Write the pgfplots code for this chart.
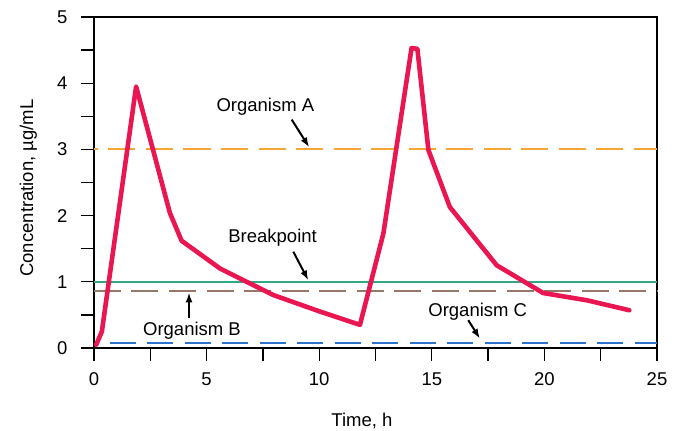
\documentclass[border=0pt]{standalone}
\usepackage{fontspec}
\setmainfont{Liberation Sans}
\usepackage{pgfplots}
\pgfplotsset{compat=1.18}
\usetikzlibrary{arrows.meta,calc}
\definecolor{curvered}{RGB}{234,22,82}
\definecolor{orgA}{RGB}{244,166,50}
\definecolor{bpgreen}{RGB}{52,168,128}
\definecolor{orgB}{RGB}{150,120,105}
\definecolor{orgC}{RGB}{45,115,205}
\begin{document}
\begin{tikzpicture}
\begin{axis}[
  scale only axis, width=563pt, height=331pt,
  xmin=0, xmax=25, ymin=0, ymax=5,
  xtick={0,5,...,25}, ytick={0,1,...,5},
  minor xtick={2.5,7.5,12.5,17.5,22.5},
  minor ytick={0.5,1.5,2.5,3.5,4.5},
  tick align=outside, tick pos=left,
  major tick length=13pt, minor tick length=13pt,
  every tick/.style={black, line width=1.3pt},
  axis line style={line width=1.3pt},
  font=\fontsize{18.5}{22}\selectfont,
  /pgf/number format/assume math mode=true,
  xticklabel style={yshift=-8pt},
  yticklabel style={xshift=-10pt},
  xlabel={Time, h},
  ylabel={Concentration, µg/mL},
  every axis x label/.style={at={(axis description cs:0.476,-0.2378)}, anchor=base},
  every axis y label/.style={at={(axis description cs:-0.1083,0.483)}, anchor=base, rotate=90},
  clip=false,
]
% horizontal reference lines
\addplot[color=orgA, line width=1.8pt, dash pattern=on 27pt off 10.5pt, dash phase=23pt] coordinates {(0,3) (25,3)};
\addplot[color=bpgreen, line width=1.9pt] coordinates {(0,1) (25,1)};
\addplot[color=orgB, line width=1.8pt, dash pattern=on 27pt off 10.5pt] coordinates {(0,0.86) (25,0.86)};
\addplot[color=orgC, line width=1.8pt, dash pattern=on 26pt off 11.5pt] coordinates {(0.71,0.08) (25,0.08)};
% concentration curve
\addplot[color=curvered, line width=4.6pt, line join=round, line cap=round] coordinates {
(0.1,0.05) (0.35,0.25) (1.87,3.95) (3.37,2.04) (3.89,1.62) (5.6,1.2) (7.96,0.80)
(10.04,0.55) (11.81,0.35) (12.85,1.73) (14.1,4.53) (14.36,4.52) (14.85,2.99)
(15.8,2.13) (17.88,1.25) (19.95,0.83) (21.9,0.72) (23.77,0.57)
};
% annotations
\node[anchor=base] at (axis cs:7.61,3.57) {Organism A};
\node[anchor=base] at (axis cs:7.93,1.597) {Breakpoint};
\node[anchor=base] at (axis cs:4.35,0.19) {Organism B};
\node[anchor=base] at (axis cs:17.04,0.483) {Organism C};
\draw[-{Latex[length=10pt,width=7pt]}, line width=2pt] (axis cs:8.78,3.45) -- (axis cs:9.56,3.03);
\draw[-{Latex[length=10pt,width=7pt]}, line width=2pt] (axis cs:8.85,1.455) -- (axis cs:9.52,1.02);
\draw[-{Latex[length=10pt,width=7pt]}, line width=2pt] (axis cs:4.22,0.45) -- (axis cs:4.22,0.84);
\draw[-{Latex[length=10pt,width=7pt]}, line width=2pt] (axis cs:16.62,0.42) -- (axis cs:17.14,0.14);
\end{axis}
\pgfresetboundingbox
\path ($(current axis.south west)+(-94pt,-83pt)$) rectangle ($(current axis.north east)+(25pt,17pt)$);
\end{tikzpicture}
\end{document}
